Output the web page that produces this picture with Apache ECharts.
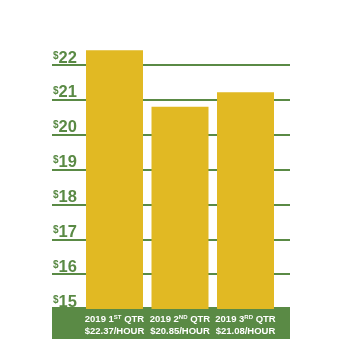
<!DOCTYPE html>
<html><head><meta charset="utf-8">
<script src="https://cdn.jsdelivr.net/npm/echarts@6/dist/echarts.min.js"></script>
<style>html,body{margin:0;padding:0;background:#fff}#c{width:354px;height:350px}</style>
</head><body><div id="c"></div>
<script>
var quarters = ['1', '2', '3'];
var suffixes = ['ST', 'ND', 'RD'];
var rateLabels = ['$22.37/HOUR', '$20.85/HOUR', '$21.08/HOUR'];
var barValues = [22.42, 20.8, 21.22];
var yTicks = [15, 16, 17, 18, 19, 20, 21, 22];

var GREEN = '#5a8a45', GOLD = '#e1b923';
var FONT = '"Liberation Sans", Arial, sans-serif';
var chart = echarts.init(document.getElementById('c'));
var unit = (309 - 65) / 7;
chart.setOption({
  animation: false,
  grid: [
    {left: 52, right: 64, top: 65, bottom: 41},
    {left: 81.75, right: 75.75, top: 65 - unit, bottom: 41}
  ],
  graphic: [{type: 'rect', shape: {x: 52, y: 307, width: 238, height: 32}, style: {fill: GREEN}, z: 0}],
  xAxis: [
    {gridIndex: 0, type: 'category', data: [''], show: false},
    {gridIndex: 1, type: 'category', data: quarters,
      axisLine: {show: false}, axisTick: {show: false},
      axisLabel: {
        margin: 5, interval: 0,
        formatter: function (v, i) {
          return '{a|2019 ' + v + '}{s|' + suffixes[i] + '}{a| QTR}\n{a|' + rateLabels[i] + '}';
        },
        rich: {
          a: {color: '#fff', fontFamily: FONT, fontWeight: 'bold', fontSize: 9.5, lineHeight: 11.5},
          s: {color: '#fff', fontFamily: FONT, fontWeight: 'bold', fontSize: 6, lineHeight: 8, verticalAlign: 'top'}
        }
      }, z: 5}
  ],
  yAxis: [
    {gridIndex: 0, type: 'value', min: yTicks[0], max: yTicks[yTicks.length - 1], interval: 1,
      axisLine: {show: false}, axisTick: {show: false},
      splitLine: {lineStyle: {color: GREEN, width: 2}},
      axisLabel: {inside: true, margin: 1, align: 'left', verticalAlign: 'bottom',
        formatter: function (v) { return '{s|$}{n|' + v + '}'; },
        rich: {
          s: {color: GREEN, fontFamily: FONT, fontWeight: 'bold', fontSize: 10, lineHeight: 14, verticalAlign: 'top'},
          n: {color: GREEN, fontFamily: FONT, fontWeight: 'bold', fontSize: 16.5, lineHeight: 14}
        }
      }},
    {gridIndex: 1, type: 'value', min: 15, max: 23, show: false}
  ],
  series: [{
    type: 'bar', xAxisIndex: 1, yAxisIndex: 1, data: barValues, barWidth: 57,
    itemStyle: {color: GOLD}, z: 3
  }]
});
</script></body></html>
